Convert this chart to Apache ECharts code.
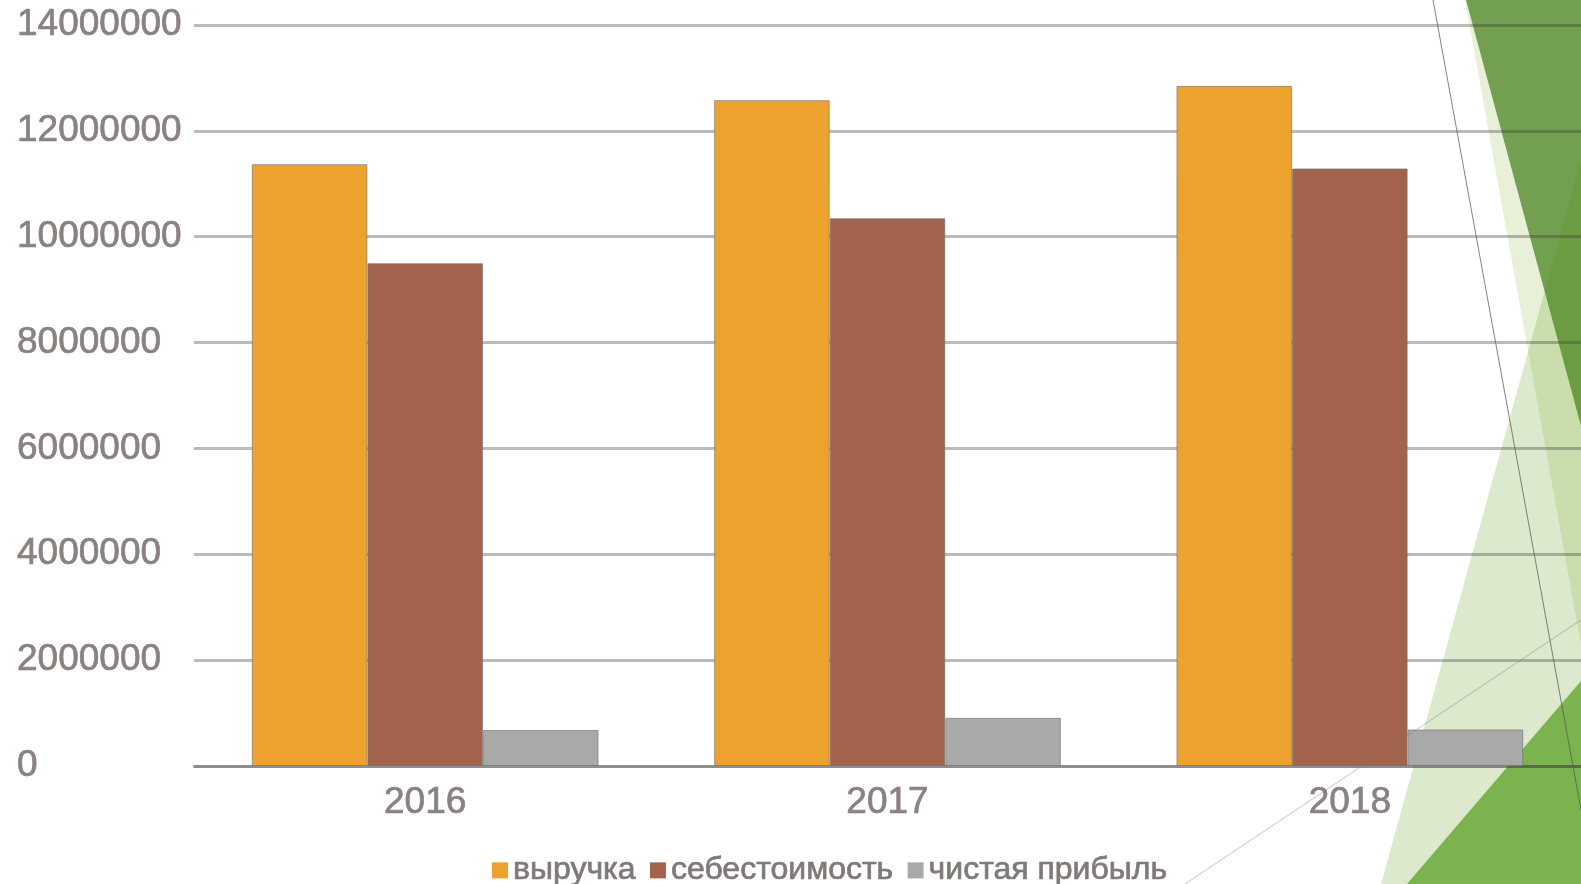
<!DOCTYPE html>
<html>
<head>
<meta charset="utf-8">
<script src="https://cdn.jsdelivr.net/npm/echarts@6/dist/echarts.min.js"></script>
<style>
  html, body { margin: 0; padding: 0; background: #fff; }
  #chart { width: 1581px; height: 884px; }
</style>
</head>
<body>
<div id="chart"></div>
<script>
  // data
  const years = ['2016', '2017', '2018']
  const revenue = [11370000, 12580000, 12850000]
  const cost = [9500000, 10350000, 11290000]
  const netProfit = [680000, 910000, 690000]
  const seriesNames = ['выручка', 'себестоимость', 'чистая прибыль']

  const textColor = '#898280'
  const gridColor = 'rgba(60,60,60,0.35)'
  const font = 'Liberation Sans, Arial, sans-serif'

  let chart = echarts.init(document.getElementById('chart'))

  // slide theme decoration on the right side
  let decor = [
    { type: 'polygon', z: -5, shape: { points: [[1465, 0], [1581, 0], [1581, 645]] }, style: { fill: '#e8f0d8' } },
    { type: 'polygon', z: -4, shape: { points: [[1466, 0], [1581, 0], [1581, 426]] }, style: { fill: '#729f50' } },
    { type: 'polygon', z: -3, shape: { points: [[1581, 160], [1381, 884], [1581, 884]] }, style: { fill: 'rgba(80,145,5,0.2)' } },
    { type: 'polygon', z: -2, shape: { points: [[1581, 681], [1581, 884], [1407, 884]] }, style: { fill: '#7bb34e' } },
    { type: 'line', z: 50, shape: { x1: 1433, y1: 0, x2: 1581, y2: 810 }, style: { stroke: 'rgba(90,90,90,0.75)', lineWidth: 1 } },
    { type: 'line', z: 50, shape: { x1: 1185, y1: 884, x2: 1581, y2: 620 }, style: { stroke: 'rgba(120,120,120,0.45)', lineWidth: 1 } }
  ]

  let barStyle = function (color) {
    return { color: color, borderColor: 'rgba(110,110,110,0.6)', borderWidth: 1 }
  }

  // the slide text is slightly heavier than a plain regular face
  let labelStyle = {
    color: textColor,
    fontSize: 37,
    fontFamily: font,
    textBorderColor: textColor,
    textBorderWidth: 0.7
  }

  let option = {
    animation: false,
    backgroundColor: '#fff',
    graphic: { elements: decor },
    grid: { left: 194, right: 0, top: 25, bottom: 118 },
    legend: {
      left: 487,
      top: 849,
      icon: 'rect',
      itemWidth: 16,
      itemHeight: 16,
      itemGap: 14,
      itemStyle: { borderWidth: 0 },
      textStyle: {
        color: '#7f7977',
        fontSize: 32,
        fontFamily: font,
        textBorderColor: '#7f7977',
        textBorderWidth: 0.7
      },
      data: seriesNames
    },
    xAxis: {
      type: 'category',
      data: years,
      axisTick: { show: false },
      axisLine: { lineStyle: { color: gridColor, width: 3 } },
      axisLabel: Object.assign({ margin: 18 }, labelStyle)
    },
    yAxis: {
      type: 'value',
      min: 0,
      max: 14000000,
      interval: 2000000,
      axisLine: { show: false },
      axisTick: { show: false },
      splitLine: { lineStyle: { color: gridColor, width: 3 } },
      axisLabel: Object.assign({
        margin: 177,
        align: 'left',
        formatter: function (v) { return String(v) }
      }, labelStyle)
    },
    series: [
      { name: seriesNames[0], type: 'bar', data: revenue, barGap: '0%', barCategoryGap: '25%', itemStyle: barStyle('#eda22e') },
      { name: seriesNames[1], type: 'bar', data: cost, barGap: '0%', barCategoryGap: '25%', itemStyle: barStyle('#a3634c') },
      { name: seriesNames[2], type: 'bar', data: netProfit, barGap: '0%', barCategoryGap: '25%', itemStyle: barStyle('#a9a9a9') }
    ]
  }
  chart.setOption(option)
</script>
</body>
</html>
